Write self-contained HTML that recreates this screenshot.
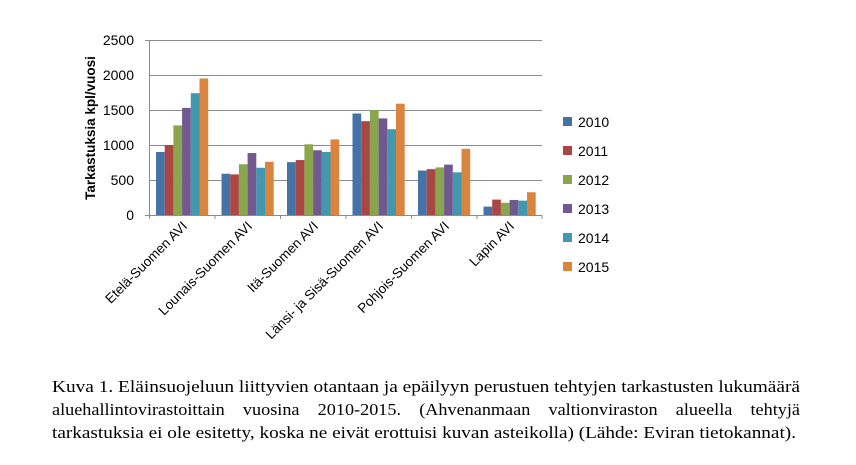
<!DOCTYPE html>
<html><head><meta charset="utf-8"><style>
html,body{margin:0;padding:0;background:#fff;width:856px;height:465px;overflow:hidden}
</style></head><body>
<svg width="856" height="465" xmlns="http://www.w3.org/2000/svg" font-family="Liberation Sans, sans-serif">
<g stroke="#8c8c8c" stroke-width="1">
<line x1="149" y1="40.5" x2="542" y2="40.5"/>
<line x1="149" y1="75.5" x2="542" y2="75.5"/>
<line x1="149" y1="110.5" x2="542" y2="110.5"/>
<line x1="149" y1="145.5" x2="542" y2="145.5"/>
<line x1="149" y1="180.5" x2="542" y2="180.5"/>
<line x1="149.5" y1="40" x2="149.5" y2="219"/>
<line x1="145" y1="215.5" x2="542" y2="215.5"/>
<line x1="145" y1="40.5" x2="149" y2="40.5"/>
<line x1="215" y1="215" x2="215" y2="219"/>
<line x1="280.5" y1="215" x2="280.5" y2="219"/>
<line x1="346" y1="215" x2="346" y2="219"/>
<line x1="411.5" y1="215" x2="411.5" y2="219"/>
<line x1="477" y1="215" x2="477" y2="219"/>
<line x1="542" y1="215" x2="542" y2="219"/>
</g>
<g id="bars"></g>
<g font-size="14" text-anchor="end" fill="#000">
<text x="134" y="45">2500</text><text x="134" y="80">2000</text><text x="134" y="115">1500</text>
<text x="134" y="150">1000</text><text x="134" y="185">500</text><text x="134" y="220">0</text>
</g>
<text transform="translate(95,128) rotate(-90)" font-size="13.5" font-weight="bold" text-anchor="middle">Tarkastuksia kpl/vuosi</text>
<g font-size="13.5" text-anchor="end">
<text transform="translate(188,227) rotate(-45)">Etelä-Suomen AVI</text>
<text transform="translate(253,227) rotate(-45)">Lounais-Suomen AVI</text>
<text transform="translate(319,227) rotate(-45)">Itä-Suomen AVI</text>
<text transform="translate(384,227) rotate(-45)">Länsi- ja Sisä-Suomen AVI</text>
<text transform="translate(450,227) rotate(-45)">Pohjois-Suomen AVI</text>
<text transform="translate(515,227) rotate(-45)">Lapin AVI</text>
</g>
<g font-size="14">
<rect x="563" y="117" width="9" height="9" fill="#4572A7"/><text x="578" y="127">2010</text>
<rect x="563" y="146" width="9" height="9" fill="#AA4643"/><text x="578" y="156">2011</text>
<rect x="563" y="175" width="9" height="9" fill="#89A54E"/><text x="578" y="185">2012</text>
<rect x="563" y="204" width="9" height="9" fill="#71588F"/><text x="578" y="214">2013</text>
<rect x="563" y="233" width="9" height="9" fill="#4198AF"/><text x="578" y="243">2014</text>
<rect x="563" y="262" width="9" height="9" fill="#DB843D"/><text x="578" y="272">2015</text>
</g>
<g font-family="Liberation Serif, serif" font-size="17" fill="#000">
<text x="52" y="392" textLength="748" lengthAdjust="spacingAndGlyphs">Kuva 1. Eläinsuojeluun liittyvien otantaan ja epäilyyn perustuen tehtyjen tarkastusten lukumäärä</text>
<text x="52" y="415" textLength="748" lengthAdjust="spacingAndGlyphs" xml:space="preserve">aluehallintovirastoittain    vuosina    2010-2015.    (Ahvenanmaan    valtionviraston    alueella    tehtyjä</text>
<text x="52" y="438" textLength="744" lengthAdjust="spacingAndGlyphs">tarkastuksia ei ole esitetty, koska ne eivät erottuisi kuvan asteikolla) (Lähde: Eviran tietokannat).</text>
</g>
</svg>
<script>
var d=[[900,1000,1280,1530,1740,1950],[590,580,725,885,675,760],[755,785,1010,925,900,1080],[1450,1340,1500,1380,1225,1590],[635,655,680,720,610,945],[120,220,175,215,205,325]];
var c=["#4572A7","#AA4643","#89A54E","#71588F","#4198AF","#DB843D"];
var g=document.getElementById("bars"),s="";
for(var i=0;i<6;i++)for(var j=0;j<6;j++){var h=d[i][j]*0.07,x=156+i*65.5+j*8.7;
s+='<rect x="'+x+'" y="'+(215-h)+'" width="8.7" height="'+h+'" fill="'+c[j]+'"/>';}
g.innerHTML=s;
</script>
</body></html>
